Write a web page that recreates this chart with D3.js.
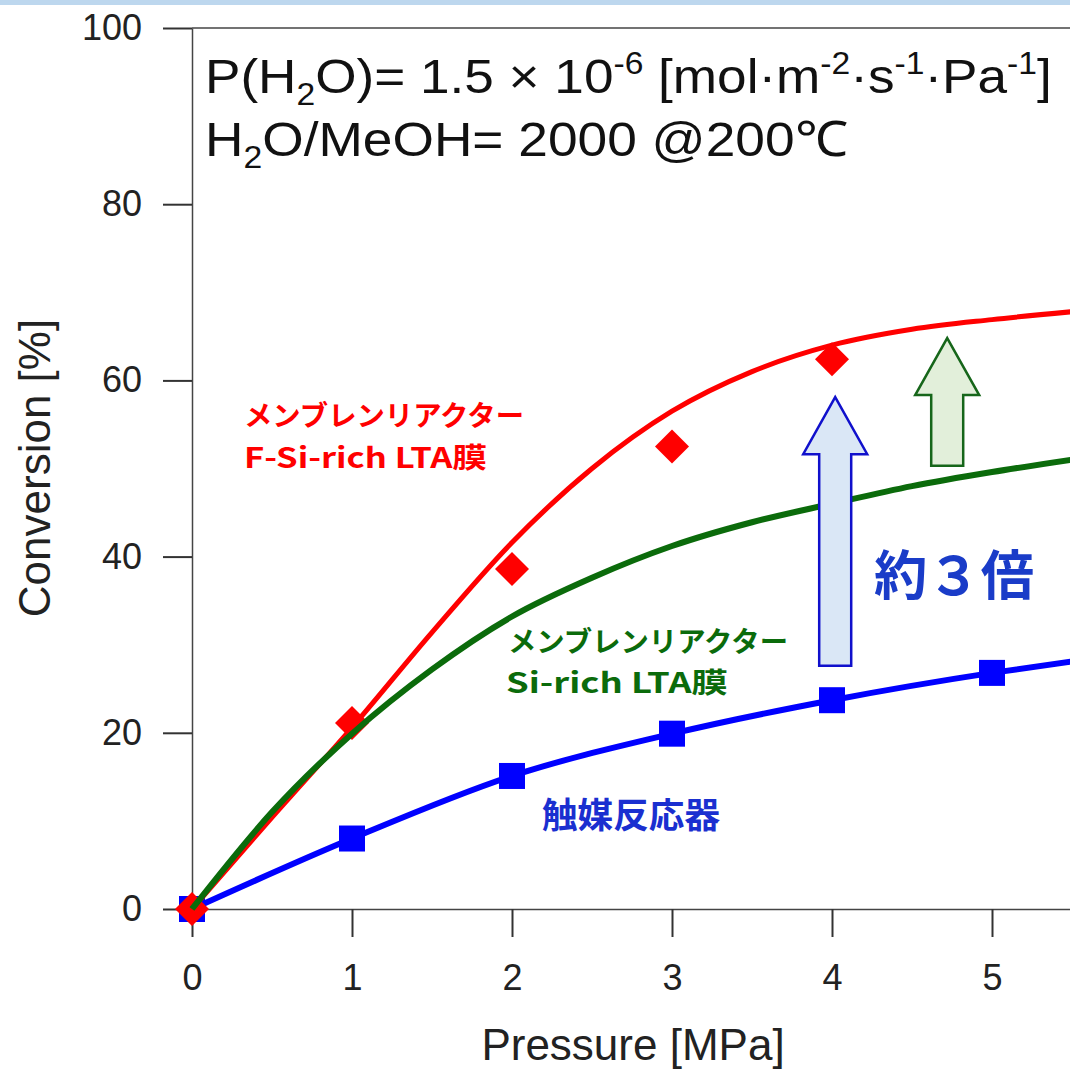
<!DOCTYPE html>
<html>
<head>
<meta charset="utf-8">
<script src="https://cdn.jsdelivr.net/npm/d3@7"></script>
<style>
  html, body { margin: 0; padding: 0; background: #fff; }
  svg { display: block; }
</style>
</head>
<body>
<div id="chart"></div>
<script>
(function () {
  // measured points
  var pressure = [0, 1, 2, 3, 4, 5];
  var catalyst = [0, 8.0, 15.1, 19.9, 23.7, 26.8];          // 触媒反応器
  var fsiPressure = [0, 1, 2, 3, 4];
  var fsiMeasured = [0, 21.1, 38.6, 52.5, 62.4];             // F-Si-rich LTA (diamonds)

  // simulated curves
  var curveP = [0, 0.5, 1, 1.5, 2, 2.5, 3, 3.5, 4, 4.5, 5, 5.5];
  var fsiCurve = [0, 10.4, 20.6, 31.4, 41.6, 50.0, 56.5, 61.0, 64.0, 65.8, 66.9, 67.8];
  var siCurve = [0, 11.0, 19.9, 27.2, 33.2, 37.6, 41.2, 43.9, 46.0, 48.0, 49.6, 51.0];
  var catalystTailP = [5, 5.5];
  var catalystTail = [26.8, 28.1];

  var xTicks = [0, 1, 2, 3, 4, 5];
  var yTicks = [0, 20, 40, 60, 80, 100];

  // block arrows: [x, from, to] in data units
  var arrowBlue = [4.02, 27.6, 58.1];
  var arrowGreen = [4.72, 50.3, 64.8];

  var width = 1070, height = 1070;
  var latin = "'Liberation Sans', Arial, sans-serif";
  var jp = "'Noto Sans CJK JP', 'Noto Sans', sans-serif";

  var svg = d3.select("#chart").append("svg")
    .attr("width", width)
    .attr("height", height)
    .attr("viewBox", "0 0 " + width + " " + height);

  svg.append("rect")
    .attr("x", 0).attr("y", 0).attr("width", width).attr("height", 5)
    .attr("fill", "#bdd7ee");

  var x = d3.scaleLinear().domain([0, 5.5]).range([192, 192 + 5.5 * 160]);
  var y = d3.scaleLinear().domain([0, 100]).range([909, 28]);

  // frame top line
  svg.append("line")
    .attr("x1", x(0)).attr("x2", width)
    .attr("y1", y(100)).attr("y2", y(100))
    .attr("stroke", "#444").attr("stroke-width", 1.5);

  var yAxis = svg.append("g")
    .attr("transform", "translate(" + x(0) + ",0)")
    .call(d3.axisLeft(y).tickValues(yTicks).tickFormat(d3.format("d"))
      .tickSize(29).tickSizeOuter(0).tickPadding(16));
  var xAxis = svg.append("g")
    .attr("transform", "translate(0," + y(0) + ")")
    .call(d3.axisBottom(x).tickValues(xTicks).tickFormat(d3.format("d"))
      .tickSize(28).tickSizeOuter(0).tickPadding(27));

  [yAxis, xAxis].forEach(function (g) {
    g.attr("font-family", latin).attr("font-size", 36);
    g.select(".domain").attr("stroke", "#444").attr("stroke-width", 1.5);
    g.selectAll(".tick line").attr("stroke", "#333").attr("stroke-width", 2);
    g.selectAll(".tick text").attr("fill", "#222");
  });
  yAxis.selectAll(".tick text").attr("x", -50);

  svg.append("text")
    .attr("x", 633).attr("y", 1060)
    .attr("text-anchor", "middle")
    .attr("font-family", latin)
    .attr("font-size", 44).attr("fill", "#222")
    .text("Pressure [MPa]");

  svg.append("text")
    .attr("transform", "translate(50,468) rotate(-90)")
    .attr("text-anchor", "middle")
    .attr("font-family", latin)
    .attr("font-size", 44).attr("fill", "#222")
    .text("Conversion [%]");

  // conditions text
  function richLine(yPos, parts, targetWidth) {
    var t = svg.append("text")
      .attr("x", 0).attr("y", 0)
      .attr("font-family", latin)
      .attr("font-size", 49).attr("fill", "#111");
    parts.forEach(function (p) {
      var s = t.append("tspan").text(p[0]);
      if (p[1] === "sup") s.attr("font-size", 31).attr("dy", -19);
      if (p[1] === "sub") s.attr("font-size", 31).attr("dy", 12);
      if (p[1] === "back-sup") s.attr("dy", 19);
      if (p[1] === "back-sub") s.attr("dy", -12);
    });
    var w = t.node().getComputedTextLength();
    t.attr("transform", "translate(205," + yPos + ") scale(" + (targetWidth / w) + ",1)");
  }
  richLine(93, [
    ["P(H"], ["2", "sub"], ["O)= 1.5 × 10", "back-sub"], ["-6", "sup"],
    [" [mol·m", "back-sup"], ["-2", "sup"], ["·s", "back-sup"], ["-1", "sup"],
    ["·Pa", "back-sup"], ["-1", "sup"], ["]", "back-sup"]
  ], 847);
  richLine(156, [
    ["H"], ["2", "sub"], ["O/MeOH= 2000 @200℃", "back-sub"]
  ], 643);

  var line = d3.line()
    .x(function (d) { return x(d[0]); })
    .y(function (d) { return y(d[1]); })
    .curve(d3.curveMonotoneX);

  // catalyst reactor
  var catPts = d3.zip(pressure, catalyst).concat(d3.zip(catalystTailP, catalystTail).slice(1));
  svg.append("path")
    .attr("d", line(catPts))
    .attr("fill", "none").attr("stroke", "#0000ff").attr("stroke-width", 6);
  svg.selectAll(".sq").data(d3.zip(pressure, catalyst)).enter()
    .append("rect")
    .attr("class", "sq")
    .attr("x", function (d) { return x(d[0]) - 13; })
    .attr("y", function (d) { return y(d[1]) - 13; })
    .attr("width", 26).attr("height", 26)
    .attr("fill", "#0000ff");

  // F-Si-rich
  svg.append("path")
    .attr("d", line(d3.zip(curveP, fsiCurve)))
    .attr("fill", "none").attr("stroke", "#ff0000").attr("stroke-width", 5);
  svg.selectAll(".dm").data(d3.zip(fsiPressure, fsiMeasured)).enter()
    .append("path")
    .attr("class", "dm")
    .attr("transform", function (d) { return "translate(" + x(d[0]) + "," + y(d[1]) + ")"; })
    .attr("d", "M0,-17L17,0L0,17L-17,0Z")
    .attr("fill", "#ff0000");

  // Si-rich
  svg.append("path")
    .attr("d", line(d3.zip(curveP, siCurve)))
    .attr("fill", "none").attr("stroke", "#0b6b0b").attr("stroke-width", 6);

  function blockArrow(a, fill, stroke) {
    var cx = x(a[0]), yb = y(a[1]), yt = y(a[2]);
    var sw = 16, hw = 32, hl = 57;
    var pts = [[cx - sw, yb], [cx - sw, yt + hl], [cx - hw, yt + hl], [cx, yt],
               [cx + hw, yt + hl], [cx + sw, yt + hl], [cx + sw, yb]];
    svg.append("path")
      .attr("d", "M" + pts.join("L") + "Z")
      .attr("fill", fill).attr("stroke", stroke).attr("stroke-width", 2.5);
  }
  blockArrow(arrowBlue, "#dae7f6", "#1010cc");
  blockArrow(arrowGreen, "#e2efda", "#16661a");

  function label(txt, px, py, size, color, fit) {
    var t = svg.append("text")
      .attr("x", px).attr("y", py)
      .attr("font-family", jp).attr("font-weight", "bold")
      .attr("font-size", size).attr("fill", color)
      .text(txt);
    if (fit) t.attr("textLength", fit).attr("lengthAdjust", "spacingAndGlyphs");
  }
  label("メンブレンリアクター", 244, 426, 28, "#ff0000", 280);
  label("F-Si-rich LTA膜", 244, 468, 28, "#ff0000", 243);
  label("メンブレンリアクター", 508, 652, 28, "#0b6b0b", 280);
  label("Si-rich LTA膜", 506, 693, 28, "#0b6b0b", 222);
  label("触媒反応器", 542, 828, 35, "#1a2fd0", 178);
  label("約３倍", 874, 595, 53, "#1a3cc8", 160);
}());
</script>
</body>
</html>
